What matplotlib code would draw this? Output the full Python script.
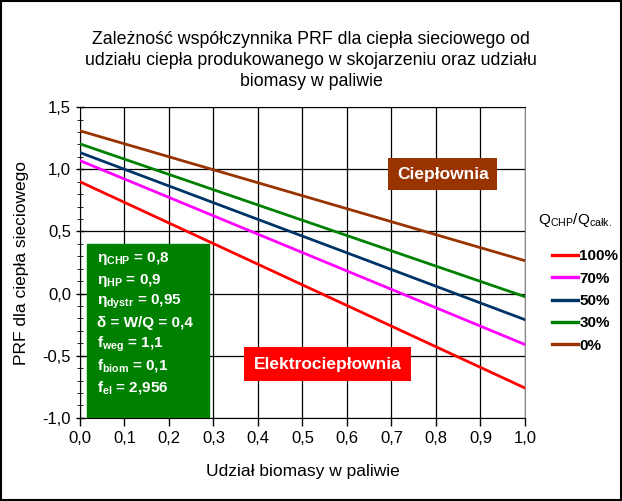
import matplotlib
matplotlib.use("Agg")
import matplotlib.pyplot as plt
from matplotlib.patches import Rectangle
from matplotlib.ticker import MultipleLocator, FuncFormatter

plt.rcParams["font.family"] = ["Liberation Sans", "DejaVu Sans"]
plt.rcParams["mathtext.fontset"] = "custom"
plt.rcParams["mathtext.rm"] = "Liberation Sans"
plt.rcParams["mathtext.sf"] = "Liberation Sans:bold"
plt.rcParams["mathtext.bf"] = "Liberation Sans:bold"
plt.rcParams["mathtext.it"] = "Liberation Sans:italic"

# udział biomasy w paliwie
biomass_share = [0.0, 1.0]

# PRF for each Q_CHP/Q_całk. share
series_labels = ["100%", "70%", "50%", "30%", "0%"]
prf_100 = [0.90, -0.76]
prf_70 = [1.07, -0.41]
prf_50 = [1.135, -0.21]
prf_30 = [1.205, -0.025]
prf_0 = [1.31, 0.265]
series_values = [prf_100, prf_70, prf_50, prf_30, prf_0]
series_colors = ["#ff0000", "#ff00ff", "#003366", "#008000", "#993300"]

params_text = [
    r"η$_{\mathsf{CHP}}$ = 0,8",
    r"η$_{\mathsf{HP}}$ = 0,9",
    r"η$_{\mathsf{dystr}}$ = 0,95",
    "δ = W/Q = 0,4",
    r"f$_{\mathsf{weg}}$ = 1,1",
    r"f$_{\mathsf{biom}}$ = 0,1",
    r"f$_{\mathsf{el}}$ = 2,956",
]

fig = plt.figure(figsize=(6.22, 5.01), dpi=100)
ax = fig.add_axes([0.1286, 0.166, 0.7154, 0.620])

for label, values, color in zip(series_labels, series_values, series_colors):
    ax.plot(biomass_share, values, color=color, lw=2.0, label=label, zorder=4)

ax.set_xlim(0, 1)
ax.set_ylim(-1.0, 1.5)
ax.xaxis.set_major_locator(MultipleLocator(0.1))
ax.yaxis.set_major_locator(MultipleLocator(0.5))
ax.yaxis.set_minor_locator(MultipleLocator(0.1))
comma = FuncFormatter(lambda v, p: f"{v:.1f}".replace(".", ",").replace("-0,0", "0,0"))
ax.xaxis.set_major_formatter(comma)
ax.yaxis.set_major_formatter(comma)
ax.tick_params(axis="both", which="major", labelsize=12, length=5, width=1, color="black")
ax.tick_params(axis="y", which="both", direction="inout", length=6)
ax.tick_params(axis="y", which="minor", length=5)
ax.tick_params(axis="x", direction="out", length=6)
ax.grid(True, which="major", color="black", lw=0.9)
for s in ("left", "bottom", "top"):
    ax.spines[s].set_color("black")
ax.spines["right"].set_color("#888888")

ax.set_xlabel("Udział biomasy w paliwie", fontsize=12.5, labelpad=13)
ax.set_ylabel("PRF dla ciepła sieciowego", fontsize=12.5, labelpad=10)

# green parameter box
ax.add_patch(Rectangle((0.016, -1.0), 0.275, 1.40, color="#008000", zorder=3))
y0 = 0.28
for i, t in enumerate(params_text):
    ax.text(0.038, y0 - i * 0.172, t, color="white", fontsize=11, fontweight="bold",
            va="center", ha="left", zorder=5)

# labels
ax.text(0.815, 0.96, "Ciepłownia", color="white", fontsize=12.5, fontweight="bold",
        ha="center", va="center", zorder=5,
        bbox=dict(boxstyle="square,pad=0.5", fc="#993300", ec="none"))
ax.text(0.556, -0.57, "Elektrociepłownia", color="white", fontsize=12.5, fontweight="bold",
        ha="center", va="center", zorder=5,
        bbox=dict(boxstyle="square,pad=0.55", fc="#ff0000", ec="none"))

fig.text(0.50, 0.88, "Zależność współczynnika PRF dla ciepła sieciowego od\n"
         "udziału ciepła produkowanego w skojarzeniu oraz udziału\n"
         "biomasy w paliwie", ha="center", va="center", fontsize=12.8, linespacing=1.3)

fig.text(0.925, 0.56, r"Q$_{\mathregular{CHP}}$/Q$_{\mathregular{całk.}}$",
         ha="center", va="center", fontsize=11)
leg = fig.legend(loc="upper left", bbox_to_anchor=(0.865, 0.53), frameon=False,
                 handlelength=1.7, handletextpad=0.1, labelspacing=0.55,
                 prop=dict(size=11, weight="bold"))
for h in leg.get_lines():
    h.set_linewidth(2.4)

fig.patches.append(Rectangle((0.002, 0.002), 0.996, 0.996, transform=fig.transFigure,
                             fill=False, ec="black", lw=1.5))

fig.savefig("out.png", dpi=100)
